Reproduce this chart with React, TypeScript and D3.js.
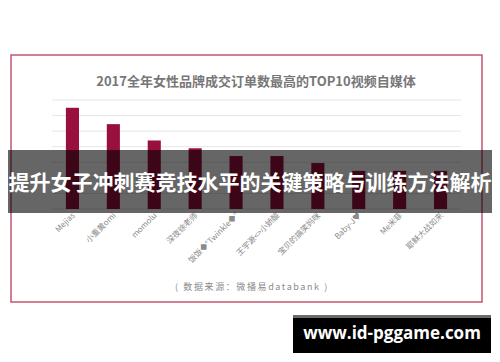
import { scaleBand, scaleLinear } from 'd3';

const W = 500;
const H = 362;

const TITLE = '2017全年女性品牌成交订单数最高的TOP10视频自媒体';
const BANNER = '提升女子冲刺赛竞技水平的关键策略与训练方法解析';
const SOURCE = '( 数据来源：微播易databank )';
const WATERMARK = 'www.id-pggame.com';

const names = [
  'Mejias',
  '小重黄omi',
  'momolu',
  '深夜徐老师',
  '饭饭◆°Twinkle◆°',
  '王宇源<>小娇酸',
  '宝贝的搞笑妈咪',
  'Baby-J♥',
  'Me米菲',
  '耶稣大战如来',
];
// relative order counts (no axis labels in the picture, read in gridline units)
const orders = [6.5, 5.45, 4.4, 3.9, 3.4, 3.4, 2.95, 2.45, 2.45, 2.45];
const gridTicks = [0, 1, 2, 3, 4, 5, 6, 7];

const FONT = '"Noto Sans CJK SC", "Noto Sans", sans-serif';
const BAR = '#990f3d';

function App() {
  const x = scaleBand<string>().domain(names).range([52, 461]).paddingInner(0.68).paddingOuter(0.34);
  const y = scaleLinear().domain([0, 7]).range([209, 100]);

  return (
    <svg
      width={W}
      height={H}
      viewBox={`0 0 ${W} ${H}`}
      style={{ position: 'absolute', left: 0, top: 0, background: '#fff' }}
      fontFamily={FONT}
    >
      <rect x={0} y={0} width={W} height={H} fill="#fff" />
      <rect x={11} y={55} width={471} height={247} fill="none" stroke="#c2556f" strokeWidth={1.5} />
      <text x={256} y={86} textAnchor="middle" fontSize={13} fontWeight="bold" fill="#777">
        {TITLE}
      </text>

      {gridTicks.map(t => (
        <line key={t} x1={52} x2={461} y1={y(t)} y2={y(t)} stroke="#e6e6e6" strokeWidth={1} />
      ))}

      {orders.map((v, i) => (
        <rect
          key={names[i]}
          x={x(names[i])}
          y={y(v)}
          width={x.bandwidth()}
          height={y(0) - y(v)}
          fill={BAR}
        />
      ))}

      {names.map(n => (
        <text
          key={n}
          transform={`translate(${(x(n) ?? 0) + x.bandwidth() / 2 + 3},${216}) rotate(-45)`}
          textAnchor="end"
          fontSize={8}
          fill="#8a8a8a"
        >
          {n}
        </text>
      ))}

      <text x={252} y={290} textAnchor="middle" fontSize={9} fill="#8a8a8a" letterSpacing={1.6}>
        {SOURCE}
      </text>

      <rect x={8} y={150} width={484} height={63} fill="rgba(0,0,0,0.6)" />
      <text x={250} y={190} textAnchor="middle" fontSize={21} fontWeight="bold" fill="#fff">
        {BANNER}
      </text>

      <rect x={293} y={315} width={198} height={38} fill="#000" />
      <rect x={293} y={315} width={198} height={3} fill="#6b6b6b" />
      <text
        x={392}
        y={339}
        textAnchor="middle"
        fontSize={17}
        fontWeight="bold"
        fill="#fff"
        fontFamily='"Open Sans", "DejaVu Sans", sans-serif'
      >
        {WATERMARK}
      </text>
    </svg>
  );
}

export default App;
